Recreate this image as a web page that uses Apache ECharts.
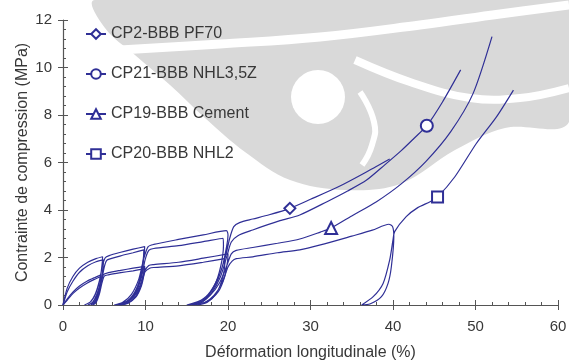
<!DOCTYPE html>
<html>
<head>
<meta charset="utf-8">
<script src="https://cdn.jsdelivr.net/npm/echarts@6/dist/echarts.min.js"></script>
<style>
  html, body { margin: 0; padding: 0; background: #fff; }
  #main { width: 569px; height: 361px; }
</style>
</head>
<body>
<div id="main"></div>
<script>
// noms des séries (légende)
var names = ['CP2-BBB PF70', 'CP21-BBB NHL3,5Z', 'CP19-BBB Cement', 'CP20-BBB NHL2'];
var symbols = ['emptyDiamond', 'emptyCircle', 'emptyTriangle', 'emptyRect'];
var symbolSizes = [11, 12, 12, 11];

// courbes [déformation %, contrainte MPa]
var cp2 = [
    [0,0],[0.5,0.7],[1.2,1.2],[2,1.55],[3,1.8],[4,1.95],[4.8,2.03],
    [4.75,1.75],[4.5,1.1],[4.0,0.5],[3.4,0.15],[2.6,0],
    [3.3,0.12],[3.9,0.45],[4.4,1.0],[4.75,1.6],[5.1,1.98],[5.6,2.08],[7,2.22],[8.5,2.35],[9.9,2.46],
    [9.85,2.15],[9.5,1.3],[8.8,0.6],[7.7,0.15],[6.2,0],
    [7.2,0.1],[8.3,0.45],[9.2,1.1],[9.75,1.9],[10.3,2.45],[11,2.55],[14,2.76],[17,2.95],[19.8,3.13],
    [20,2.95],[19.85,2.5],[19.3,1.6],[18.4,0.8],[17,0.25],[15,0],
    [16.2,0.1],[17.6,0.45],[18.8,1.15],[19.7,2.05],[20.2,2.8],[20.7,3.3],[21.4,3.47],[23,3.62],[25,3.8],
    [27.5,4.07],[30,4.45],[33.5,5.0],[36.5,5.55],[39.6,6.15]
];
var cp21 = [
    [0,0],[0.5,0.55],[1.2,1.0],[2,1.38],[3,1.65],[4,1.82],[4.9,1.9],
    [4.85,1.6],[4.6,1.0],[4.1,0.45],[3.6,0.12],[3.0,0],
    [3.6,0.1],[4.2,0.45],[4.7,1.05],[5.0,1.6],[5.3,1.88],[5.8,1.95],[7,2.07],[8.5,2.2],[9.8,2.32],
    [9.75,2.0],[9.4,1.15],[8.7,0.5],[7.9,0.15],[7.0,0],
    [7.8,0.1],[8.8,0.5],[9.5,1.15],[9.95,1.9],[10.4,2.3],[11,2.38],[14,2.5],[17,2.67],[19.4,2.81],
    [19.45,2.5],[19.1,1.6],[18.4,0.85],[17.3,0.3],[15.8,0],
    [16.8,0.1],[18,0.5],[19.1,1.2],[19.9,2.1],[20.4,2.65],[21.2,2.92],[23,3.16],[26.3,3.55],[28.7,3.79],
    [32,4.35],[34.5,4.8],[36.8,5.26],[39,5.9],[41,6.5],[42.5,7.0],[44.1,7.55],[46,8.55],[48.2,9.9]
];
var cp19 = [
    [0,0],[0.5,0.25],[1.25,0.56],[2,0.8],[2.9,1.0],[3.8,1.15],[4.6,1.27],
    [4.55,1.0],[4.3,0.55],[3.9,0.18],[3.4,0],
    [3.9,0.12],[4.3,0.45],[4.6,0.9],[4.9,1.28],[5.5,1.36],[7,1.46],[8.5,1.55],[9.9,1.63],
    [9.85,1.35],[9.5,0.8],[8.8,0.32],[7.8,0.08],[6.5,0],
    [7.4,0.08],[8.5,0.35],[9.3,0.8],[9.85,1.4],[10.4,1.66],[11,1.7],[14,1.8],[17,1.97],[20,2.15],
    [19.95,1.85],[19.6,1.2],[18.8,0.55],[17.5,0.15],[15.3,0],
    [16.4,0.08],[17.8,0.4],[19,0.95],[19.85,1.65],[20.4,2.15],[21,2.3],[23,2.42],[26,2.6],[28.7,2.78],
    [31.2,3.07],[32.5,3.24],[35,3.75],[38,4.35],[41,5.1],[44,6.05],[47,7.3],[49.7,8.9],[52,11.3]
];
var cp20 = [
    [0,0],[0.5,0.2],[1.25,0.5],[2,0.72],[2.9,0.92],[3.8,1.08],[4.6,1.2],
    [4.55,0.95],[4.3,0.5],[4.0,0.15],[3.6,0],
    [4.0,0.1],[4.4,0.45],[4.7,0.9],[5.0,1.22],[5.5,1.27],[7,1.36],[8.5,1.44],[9.8,1.52],
    [9.75,1.25],[9.4,0.78],[8.8,0.35],[7.9,0.08],[6.8,0],
    [7.6,0.08],[8.6,0.35],[9.4,0.8],[9.95,1.4],[10.5,1.55],[11,1.58],[14,1.65],[17,1.8],[19.6,1.95],
    [19.6,1.7],[19.3,1.1],[18.6,0.5],[17.5,0.12],[16.2,0],
    [17.1,0.08],[18.3,0.4],[19.3,0.95],[20,1.6],[20.5,1.85],[21,1.95],[23,2.03],[26,2.2],[28.7,2.32],
    [31.2,2.53],[35,2.9],[37.5,3.15],[39.5,3.4],
    [39.95,3.3],[40.1,2.88],[39.8,1.61],[39.4,0.91],[38.6,0.35],[37.2,0.04],[36.2,0],
    [37.6,0.35],[38.8,0.91],[39.6,1.9],[40.0,2.74],[40.2,3.09],[41.6,3.72],[43,4.1],[44.5,4.35],
    [45.4,4.55],[47.5,5.4],[50.1,6.8],[52.5,7.9],[54.6,9.05]
];
// position du marqueur sur chaque courbe
var marks = [[27.5,4.07],[44.1,7.55],[32.5,3.24],[45.4,4.55]];

var xTicks = { min: 0, max: 60, interval: 10 };
var yTicks = { min: 0, max: 12, interval: 2 };

var curves = [cp2, cp21, cp19, cp20];
var lineColor = '#2f2f96';
var axisColor = '#555';
var textColor = '#383838';
var font = 'Liberation Sans, Arial, sans-serif';

function buildData(pts, mk){
    return pts.map(function(p){
        if(p[0] === mk[0] && p[1] === mk[1]) return p;
        return { value: p, symbol: 'none' };
    });
}

var series = [];
for(var i = 0; i < curves.length; i++){
    series.push({
        name: names[i],
        type: 'line',
        data: buildData(curves[i], marks[i]),
        smooth: 0.25,
        symbol: symbols[i],
        symbolSize: symbolSizes[i],
        showSymbol: true,
        lineStyle: { color: lineColor, width: 1.2 },
        itemStyle: { color: lineColor, borderWidth: 1.2 },
        emphasis: { disabled: true },
        z: 3
    });
}

var wm = '#d9d9d9';
var myChart = echarts.init(document.getElementById('main'));
var option = {
    animation: false,
    backgroundColor: '#fff',
    // filigrane gris en fond
    graphic: [
        { type: 'polygon', z: -5, silent: true,
          shape: { smooth: 0.35, points: [[95,0],[569,0],[569,122],[505,128],[455,150],[400,184],[345,190],[290,180],[245,152],[205,118],[170,85],[135,55],[105,28]] },
          style: { fill: wm } },
        { type: 'circle', z: -4, silent: true, shape: { cx: 318, cy: 97, r: 27 }, style: { fill: '#fff' } },
        { type: 'polyline', z: -4, silent: true,
          shape: { smooth: 0.4, points: [[120,50],[220,44],[320,37],[420,25],[500,14],[569,5]] },
          style: { stroke: '#fff', lineWidth: 9 } },
        { type: 'polyline', z: -4, silent: true,
          shape: { smooth: 0.4, points: [[355,60],[410,82],[470,98],[520,98],[569,88]] },
          style: { stroke: '#fff', lineWidth: 8 } },
        { type: 'polyline', z: -4, silent: true,
          shape: { smooth: 0.5, points: [[360,92],[374,122],[372,145],[362,165]] },
          style: { stroke: '#fff', lineWidth: 6 } }
    ],
    grid: { left: 63, right: 11, top: 20, bottom: 56, containLabel: false, outerBoundsMode: 'none' },
    legend: {
        orient: 'vertical',
        left: 80,
        top: 21,
        itemGap: 24,
        itemWidth: 20,
        itemHeight: 12,
        data: names,
        textStyle: { color: textColor, fontSize: 16, fontFamily: font }
    },
    xAxis: [{
        type: 'value',
        min: xTicks.min, max: xTicks.max, interval: xTicks.interval,
        name: 'Déformation longitudinale (%)',
        nameLocation: 'middle',
        nameGap: 40,
        nameMoveOverlap: false,
        nameTextStyle: { color: textColor, fontSize: 16, fontFamily: font },
        axisLine: { lineStyle: { color: axisColor, width: 1.2 } },
        axisTick: { inside: true, length: 5, lineStyle: { color: axisColor } },
        minorTick: { show: true, splitNumber: 5, length: 3, lineStyle: { color: axisColor } },
        axisLabel: { color: textColor, fontSize: 15, fontFamily: font, margin: 14 },
        splitLine: { show: false }
    }, {
        type: 'value', position: 'bottom', offset: 0,
        min: xTicks.min, max: xTicks.max, interval: xTicks.interval,
        axisLine: { show: false },
        axisTick: { show: true, inside: false, length: 5, lineStyle: { color: axisColor } },
        axisLabel: { show: false },
        splitLine: { show: false }
    }],
    yAxis: [{
        type: 'value',
        min: yTicks.min, max: yTicks.max, interval: yTicks.interval,
        name: 'Contrainte de compression (MPa)',
        nameLocation: 'middle',
        nameGap: 32,
        nameMoveOverlap: false,
        nameTextStyle: { color: textColor, fontSize: 16, fontFamily: font },
        axisLine: { show: true, lineStyle: { color: axisColor, width: 1.2 } },
        axisTick: { show: true, inside: true, length: 5, lineStyle: { color: axisColor } },
        minorTick: { show: true, splitNumber: 5, length: 3, lineStyle: { color: axisColor } },
        axisLabel: { color: textColor, fontSize: 15, fontFamily: font, margin: 11 },
        splitLine: { show: false }
    }, {
        type: 'value', position: 'left', offset: 0,
        min: yTicks.min, max: yTicks.max, interval: yTicks.interval,
        axisLine: { show: false },
        axisTick: { show: true, inside: false, length: 5, lineStyle: { color: axisColor } },
        axisLabel: { show: false },
        splitLine: { show: false }
    }],
    series: series
};
myChart.setOption(option);
</script>
</body>
</html>
